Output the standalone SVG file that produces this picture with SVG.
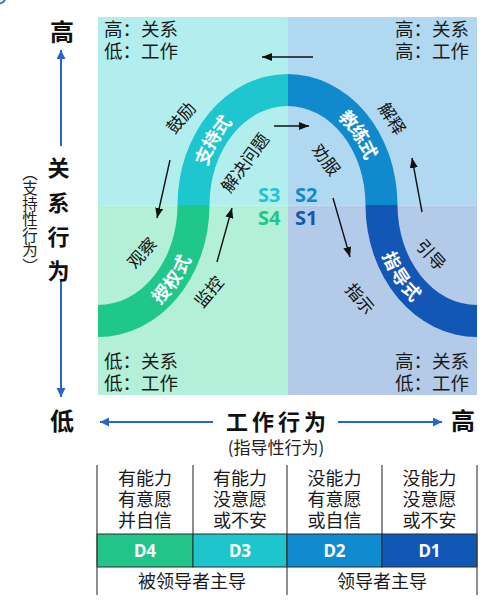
<svg xmlns="http://www.w3.org/2000/svg" width="496" height="605" viewBox="0 0 496 605">
<style>
  .cjk { font-family: "Noto Sans CJK SC", "Noto Sans", sans-serif; }
  .q { font-size: 18.5px; fill: #1a1a1a; }
  .lbl { font-size: 17px; fill: #111; text-anchor: middle; dominant-baseline: central; }
  .band { font-size: 18px; font-weight: bold; fill: #fff; dominant-baseline: central; }
  .ax { font-size: 24px; font-weight: bold; fill: #111; }
  .axv { font-size: 22px; font-weight: bold; fill: #111; text-anchor: middle; }
  .s { font-family: "Noto Sans", "Open Sans", sans-serif; font-size: 20px; font-weight: bold; }
  .cell { font-size: 18px; fill: #1a1a1a; text-anchor: middle; }
  .d { font-family: "Noto Sans", "Open Sans", sans-serif; font-size: 17px; font-weight: bold; fill: #fff; text-anchor: middle; }
  .blk { stroke: #111; stroke-width: 1.4; fill: none; }
  .blu { stroke: #2467c8; stroke-width: 2; fill: none; }
  .tl { stroke: #444; stroke-width: 1.2; }
</style>
<defs>
  <marker id="ah" markerUnits="userSpaceOnUse" markerWidth="12" markerHeight="10" refX="10" refY="4" orient="auto">
    <path d="M0,0 L10,4 L0,8 Z" fill="#111"/>
  </marker>
  <marker id="ab" markerUnits="userSpaceOnUse" markerWidth="12" markerHeight="10" refX="9" refY="4.5" orient="auto">
    <path d="M0,0 L9,4.5 L0,9 Z" fill="#2467c8"/>
  </marker>
  <path id="pTop" d="M 193.5 205 A 94 115 0 0 1 381.5 205"/>
  <path id="pBL" d="M 98 321 A 95.5 116 0 0 0 193.5 205"/>
  <path id="pBR" d="M 381.5 205 A 95.5 116 0 0 0 477 321"/>
</defs>

<path d="M0 3.5 Q 3 3 5 0" stroke="#2a72d0" stroke-width="2" fill="none"/>

<g id="quadrants">
  <rect x="98" y="17" width="189.5" height="188.5" fill="#b3eeee"/>
  <rect x="287.5" y="17" width="189.5" height="188.5" fill="#b0d8f0"/>
  <rect x="98" y="205.5" width="189.5" height="189.5" fill="#b3efd9"/>
  <rect x="287.5" y="205.5" width="189.5" height="189.5" fill="#b3cbe8"/>
</g>

<g id="curve">
  <path d="M 177.5 205 A 110 131 0 0 1 287.5 74 L 287.5 106 A 78 99 0 0 0 209.5 205 Z" fill="#1ec7cf"/>
  <path d="M 287.5 74 A 110 131 0 0 1 397.5 205 L 365.5 205 A 78 99 0 0 0 287.5 106 Z" fill="#118acd"/>
  <path d="M 177.5 205 L 209.5 205 A 111.5 132 0 0 1 98 337 L 98 305 A 79.5 100 0 0 0 177.5 205 Z" fill="#20c78a"/>
  <path d="M 365.5 205 L 397.5 205 A 79.5 100 0 0 0 477 305 L 477 337 A 111.5 132 0 0 1 365.5 205 Z" fill="#1357b6"/>
  <text class="cjk band" text-anchor="middle"><textPath href="#pTop" startOffset="21%">支持式</textPath></text>
  <text class="cjk band" text-anchor="middle"><textPath href="#pTop" startOffset="77%">教练式</textPath></text>
  <text class="cjk band" text-anchor="middle"><textPath href="#pBL" startOffset="53%">授权式</textPath></text>
  <text class="cjk band" text-anchor="middle"><textPath href="#pBR" startOffset="45%">指导式</textPath></text>
</g>

<g id="quadrant-texts" class="cjk q">
  <text x="104" y="36">高：关系</text>
  <text x="104" y="58">低：工作</text>
  <text x="469" y="36" text-anchor="end">高：关系</text>
  <text x="469" y="58" text-anchor="end">高：工作</text>
  <text x="104" y="368">低：关系</text>
  <text x="104" y="390">低：工作</text>
  <text x="469" y="368" text-anchor="end">高：关系</text>
  <text x="469" y="390" text-anchor="end">低：工作</text>
</g>

<g id="styles-s" class="s">
  <text x="258" y="202" fill="#1ec7cf">S3</text>
  <text x="295" y="202" fill="#118acd">S2</text>
  <text x="258" y="225" fill="#20c78a">S4</text>
  <text x="295" y="225" fill="#1357b6">S1</text>
</g>

<g id="behaviours" class="cjk lbl">
  <text transform="translate(180,117) rotate(-50)">鼓励</text>
  <text transform="translate(244,162) rotate(-54)">解决问题</text>
  <text transform="translate(141,252) rotate(-48)">观察</text>
  <text transform="translate(208,291) rotate(-50)">监控</text>
  <text transform="translate(327,159) rotate(53)">劝服</text>
  <text transform="translate(393,118) rotate(57)">解释</text>
  <text transform="translate(361,298) rotate(50)">指示</text>
  <text transform="translate(432,254) rotate(48)">引导</text>
</g>

<g id="connectors">
  <line class="blk" x1="313" y1="57" x2="262" y2="57" marker-end="url(#ah)"/>
  <line class="blk" x1="274" y1="126" x2="309" y2="126" marker-end="url(#ah)"/>
  <line class="blk" x1="170" y1="160" x2="157" y2="218" marker-end="url(#ah)"/>
  <line class="blk" x1="217" y1="262" x2="232" y2="208" marker-end="url(#ah)"/>
  <line class="blk" x1="333" y1="198" x2="350" y2="257" marker-end="url(#ah)"/>
  <line class="blk" x1="422" y1="212" x2="412" y2="158" marker-end="url(#ah)"/>
  <line class="blu" x1="61" y1="146" x2="61" y2="50" marker-end="url(#ab)"/>
  <line class="blu" x1="61" y1="280" x2="61" y2="397" marker-end="url(#ab)"/>
  <line class="blu" x1="213" y1="422" x2="100" y2="422" marker-end="url(#ab)"/>
  <line class="blu" x1="338" y1="422" x2="442" y2="422" marker-end="url(#ab)"/>
</g>

<g id="axes" class="cjk">
  <text class="ax" x="50" y="41">高</text>
  <text class="ax" x="50" y="430">低</text>
  <text class="ax" x="451" y="430">高</text>
  <text class="axv" x="58.5" y="176">关</text>
  <text class="axv" x="58.5" y="211">系</text>
  <text class="axv" x="58.5" y="245">行</text>
  <text class="axv" x="58.5" y="279">为</text>
  <text x="30" y="165" style="writing-mode: vertical-rl" font-size="15.5" fill="#222">（支持性行为）</text>
  <text x="226" y="430" font-size="22" font-weight="bold" fill="#111" letter-spacing="4">工作行为</text>
  <text x="276" y="454" font-size="17" fill="#222" text-anchor="middle">(指导性行为)</text>
</g>

<g id="table">
  <rect x="97" y="534" width="96" height="33" fill="#21c58a" stroke="#2a2a2a" stroke-width="1"/>
  <rect x="193" y="534" width="94" height="33" fill="#1cc6cc" stroke="#2a2a2a" stroke-width="1"/>
  <rect x="287" y="534" width="95" height="33" fill="#118bcf" stroke="#2a2a2a" stroke-width="1"/>
  <rect x="382" y="534" width="95" height="33" fill="#1157b5" stroke="#2a2a2a" stroke-width="1"/>
  <line class="tl" x1="97" y1="465" x2="97" y2="595"/>
  <line class="tl" x1="193" y1="465" x2="193" y2="534"/>
  <line class="tl" x1="287" y1="465" x2="287" y2="595"/>
  <line class="tl" x1="382" y1="465" x2="382" y2="534"/>
  <line class="tl" x1="477" y1="465" x2="477" y2="595"/>
  <g class="cjk cell">
    <text x="145" y="485">有能力</text>
    <text x="145" y="506">有意愿</text>
    <text x="145" y="527">并自信</text>
    <text x="240" y="485">有能力</text>
    <text x="240" y="506">没意愿</text>
    <text x="240" y="527">或不安</text>
    <text x="334.5" y="485">没能力</text>
    <text x="334.5" y="506">有意愿</text>
    <text x="334.5" y="527">或自信</text>
    <text x="429.5" y="485">没能力</text>
    <text x="429.5" y="506">没意愿</text>
    <text x="429.5" y="527">或不安</text>
    <text x="192" y="588">被领导者主导</text>
    <text x="382" y="588">领导者主导</text>
  </g>
  <g class="d">
    <text x="145" y="557">D4</text>
    <text x="240" y="557">D3</text>
    <text x="334.5" y="557">D2</text>
    <text x="429.5" y="557">D1</text>
  </g>
</g>
</svg>
